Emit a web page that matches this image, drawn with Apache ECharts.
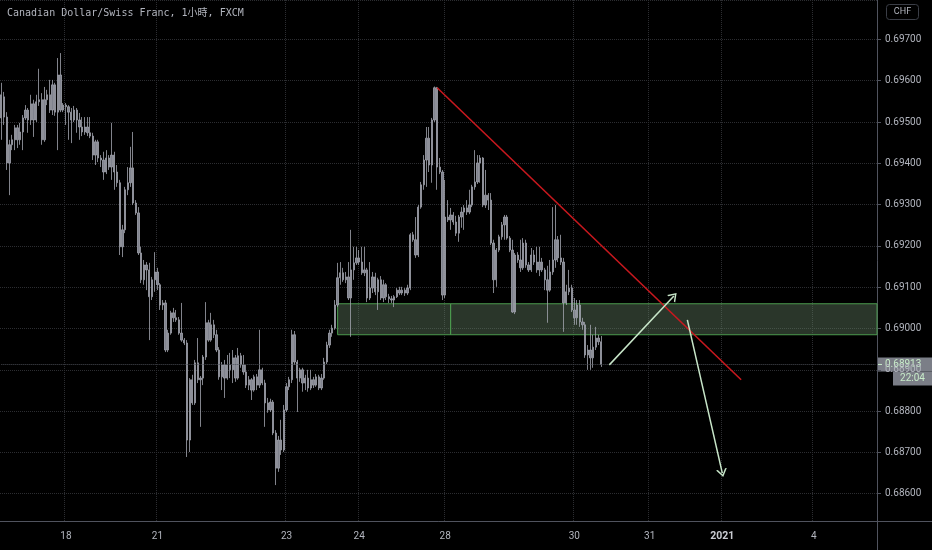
<!DOCTYPE html>
<html lang="en">
  <head>
    <meta charset="UTF-8" />
    <title>CADCHF 1h</title>
    <script src="https://cdn.jsdelivr.net/npm/echarts@6/dist/echarts.min.js"></script>
    <style>
      html,
      body {
        margin: 0;
        padding: 0;
        background: #000;
      }
      #main {
        width: 932px;
        height: 550px;
      }
    </style>
  </head>
  <body>
    <div id="main"></div>
    <script>
      // hourly bars, each row is [open, close, low, high]
      const dec17 = [
        [0.6951, 0.69566, 0.69457, 0.69595], [0.69561, 0.69512, 0.69493, 0.69573],
        [0.69512, 0.69401, 0.69384, 0.69524], [0.69401, 0.69445, 0.69323, 0.69457],
        [0.69445, 0.69457, 0.69432, 0.69469], [0.69457, 0.69486, 0.69432, 0.69493],
        [0.69486, 0.69457, 0.69437, 0.69493], [0.69457, 0.69476, 0.69445, 0.69498],
        [0.69476, 0.6951, 0.69432, 0.69517], [0.6951, 0.69529, 0.69505, 0.69541],
        [0.69529, 0.69505, 0.69474, 0.69534], [0.69505, 0.69544, 0.69493, 0.69566],
        [0.69544, 0.69505, 0.69464, 0.69554], [0.69505, 0.69549, 0.695, 0.69566],
        [0.69549, 0.69554, 0.69539, 0.69629], [0.69554, 0.69457, 0.69445, 0.6957],
        [0.69457, 0.69554, 0.69452, 0.69585], [0.69554, 0.69566, 0.69541, 0.69578],
        [0.69566, 0.69529, 0.69522, 0.69602], [0.69529, 0.6959, 0.69517, 0.69602],
        [0.6959, 0.69524, 0.69515, 0.69595], [0.69524, 0.69614, 0.69432, 0.69655],
        [0.69614, 0.69529, 0.69524, 0.69667], [0.69529, 0.69541, 0.69524, 0.69546],
      ];
      const dec18 = [
        [0.69541, 0.69537, 0.69493, 0.69546], [0.69537, 0.69524, 0.69457, 0.69541],
        [0.69524, 0.69505, 0.69449, 0.69534], [0.69505, 0.69529, 0.695, 0.69539],
        [0.69529, 0.69505, 0.69474, 0.69534], [0.69505, 0.69488, 0.69457, 0.69522],
        [0.69488, 0.69476, 0.69466, 0.69512], [0.69476, 0.69488, 0.69469, 0.69512],
        [0.69488, 0.69474, 0.69466, 0.69512], [0.69474, 0.69466, 0.69461, 0.69512],
        [0.69466, 0.6942, 0.69408, 0.69474], [0.6942, 0.69452, 0.69396, 0.69457],
        [0.69452, 0.69413, 0.69403, 0.69457], [0.69413, 0.69408, 0.69391, 0.6942],
        [0.69408, 0.69379, 0.6936, 0.69428], [0.69379, 0.69413, 0.69374, 0.69432],
        [0.69413, 0.69391, 0.69384, 0.6942], [0.69391, 0.6942, 0.6936, 0.69498],
        [0.6942, 0.69379, 0.69336, 0.69428], [0.69379, 0.69353, 0.69343, 0.69396],
        [0.69353, 0.69198, 0.69178, 0.6936], [0.69198, 0.69239, 0.69173, 0.69251],
        [0.69239, 0.69336, 0.69231, 0.69343], [0.69336, 0.69353, 0.69323, 0.69391],
        [0.69353, 0.69389, 0.69343, 0.6944], [0.69389, 0.69304, 0.69299, 0.69476],
        [0.69304, 0.6928, 0.69275, 0.69311], [0.6928, 0.69183, 0.69178, 0.69294],
        [0.69183, 0.69118, 0.6911, 0.69198], [0.69118, 0.69154, 0.69106, 0.69166],
        [0.69154, 0.69142, 0.69093, 0.69161], [0.69142, 0.69077, 0.68972, 0.69159],
        [0.69077, 0.69118, 0.69069, 0.69125], [0.69118, 0.69137, 0.69089, 0.69185],
      ];
      const dec21to22 = [
        [0.69137, 0.69106, 0.69093, 0.69147], [0.69106, 0.69057, 0.69045, 0.6911],
        [0.69057, 0.69062, 0.69045, 0.69069], [0.69062, 0.68948, 0.68943, 0.69069],
        [0.68948, 0.68989, 0.68943, 0.68997], [0.68989, 0.69038, 0.68985, 0.69043],
        [0.69038, 0.69026, 0.69016, 0.6905], [0.69026, 0.69021, 0.69016, 0.69045],
        [0.69021, 0.68989, 0.68985, 0.69028], [0.68989, 0.68972, 0.68968, 0.69062],
        [0.68972, 0.68965, 0.6896, 0.68977], [0.68965, 0.6873, 0.68689, 0.68972],
        [0.6873, 0.68876, 0.68701, 0.6888], [0.68876, 0.6882, 0.68815, 0.68888],
        [0.6882, 0.68917, 0.68815, 0.68924], [0.68917, 0.68876, 0.68868, 0.68977],
        [0.68876, 0.6888, 0.68762, 0.68885], [0.6888, 0.68931, 0.68863, 0.68936],
        [0.68931, 0.69014, 0.68924, 0.69064], [0.69014, 0.68972, 0.68968, 0.69021],
        [0.68972, 0.69009, 0.68968, 0.69038], [0.69009, 0.68985, 0.68977, 0.69021],
        [0.68985, 0.68948, 0.68943, 0.68997], [0.68948, 0.68883, 0.68876, 0.68955],
        [0.68883, 0.68912, 0.68851, 0.68919], [0.68912, 0.6888, 0.68832, 0.68924],
        [0.6888, 0.68912, 0.68876, 0.68936], [0.68912, 0.689, 0.6888, 0.68941],
        [0.689, 0.68929, 0.68868, 0.68948], [0.68929, 0.6888, 0.68871, 0.68936],
        [0.6888, 0.68934, 0.68876, 0.68953], [0.68934, 0.68912, 0.68905, 0.68941],
        [0.68912, 0.68895, 0.68888, 0.68936], [0.68895, 0.68863, 0.68856, 0.68912],
        [0.68863, 0.68876, 0.68851, 0.68885], [0.68876, 0.68851, 0.68827, 0.6888],
        [0.68851, 0.68883, 0.68847, 0.68888], [0.68883, 0.68863, 0.68851, 0.6889],
        [0.68863, 0.689, 0.68856, 0.68997], [0.689, 0.68868, 0.68863, 0.68905],
        [0.68868, 0.6882, 0.68762, 0.68876], [0.6882, 0.68803, 0.68796, 0.68832],
        [0.68803, 0.68822, 0.68798, 0.6883], [0.68822, 0.68747, 0.68742, 0.68827],
        [0.68747, 0.68662, 0.68621, 0.68754], [0.68662, 0.6873, 0.68653, 0.6874],
        [0.6873, 0.68706, 0.68694, 0.68779], [0.68706, 0.68803, 0.68701, 0.68815],
      ];
      const dec23 = [
        [0.68803, 0.68859, 0.68798, 0.68868], [0.68859, 0.68876, 0.68851, 0.68883],
        [0.68876, 0.68985, 0.68868, 0.68997], [0.68985, 0.68919, 0.68912, 0.68994],
        [0.68919, 0.6888, 0.68798, 0.68924], [0.6888, 0.689, 0.68871, 0.68905],
        [0.689, 0.68868, 0.68847, 0.68905], [0.68868, 0.6888, 0.68851, 0.68888],
        [0.6888, 0.68856, 0.68847, 0.689], [0.68856, 0.68876, 0.68851, 0.689],
        [0.68876, 0.68863, 0.68856, 0.68883], [0.68863, 0.68883, 0.68859, 0.6889],
        [0.68883, 0.68856, 0.68851, 0.68888], [0.68856, 0.6888, 0.68851, 0.6889],
        [0.6888, 0.68919, 0.68876, 0.68929], [0.68919, 0.6896, 0.68914, 0.68968],
        [0.6896, 0.68989, 0.68953, 0.68997], [0.68989, 0.69001, 0.6898, 0.69009],
        [0.69001, 0.69057, 0.68997, 0.69069], [0.69057, 0.69123, 0.69052, 0.69159],
        [0.69123, 0.69135, 0.69106, 0.69161], [0.69135, 0.69118, 0.69113, 0.69147],
        [0.69118, 0.69125, 0.6911, 0.69137], [0.69125, 0.69074, 0.69069, 0.69161],
        [0.69074, 0.69142, 0.6898, 0.69239], [0.69142, 0.69159, 0.69118, 0.69198],
        [0.69159, 0.69171, 0.69154, 0.69198],
      ];
      const dec24 = [
        [0.69171, 0.69161, 0.69154, 0.6919], [0.69161, 0.69135, 0.6913, 0.69198],
        [0.69135, 0.69142, 0.69127, 0.69198], [0.69142, 0.69074, 0.69064, 0.69147],
        [0.69074, 0.69098, 0.69069, 0.69161], [0.69098, 0.69125, 0.69086, 0.69137],
        [0.69125, 0.69089, 0.69081, 0.69135], [0.69089, 0.69118, 0.69045, 0.69123],
        [0.69118, 0.69074, 0.69069, 0.69127], [0.69074, 0.69106, 0.69064, 0.69118],
        [0.69106, 0.69077, 0.69069, 0.6911], [0.69077, 0.69072, 0.69062, 0.69084],
        [0.69072, 0.69069, 0.69062, 0.69079], [0.69069, 0.69077, 0.69052, 0.69081],
        [0.69077, 0.69093, 0.69074, 0.69098], [0.69093, 0.69086, 0.69081, 0.69101],
        [0.69086, 0.69093, 0.69081, 0.69101], [0.69093, 0.69086, 0.69079, 0.69098],
        [0.69086, 0.69098, 0.69081, 0.69106], [0.69098, 0.69227, 0.69093, 0.69231],
        [0.69227, 0.69215, 0.6921, 0.69234], [0.69215, 0.69178, 0.69171, 0.6927],
        [0.69178, 0.69294, 0.69173, 0.69299], [0.69294, 0.69348, 0.6929, 0.69355],
        [0.69348, 0.69408, 0.69336, 0.6942], [0.69408, 0.69461, 0.69343, 0.69488],
        [0.69461, 0.69396, 0.69379, 0.69488], [0.69396, 0.69505, 0.69353, 0.6951],
        [0.69505, 0.69583, 0.695, 0.69586], [0.69583, 0.69391, 0.69336, 0.69585],
        [0.69391, 0.69379, 0.69374, 0.69413], [0.69379, 0.69081, 0.69069, 0.69384],
      ];
      const dec28to29 = [
        [0.69081, 0.6927, 0.69074, 0.6936], [0.6927, 0.69263, 0.69258, 0.69311],
        [0.69263, 0.69275, 0.69239, 0.69292], [0.69275, 0.69258, 0.69251, 0.69282],
        [0.69258, 0.69231, 0.69224, 0.69273], [0.69231, 0.6927, 0.6921, 0.69275],
        [0.6927, 0.69282, 0.69244, 0.69294], [0.69282, 0.69292, 0.69239, 0.69299],
        [0.69292, 0.69282, 0.69275, 0.69311], [0.69282, 0.69299, 0.69277, 0.69336],
        [0.69299, 0.69343, 0.69294, 0.69348], [0.69343, 0.69355, 0.69336, 0.69432],
        [0.69355, 0.69401, 0.6935, 0.6942], [0.69401, 0.69413, 0.69353, 0.6942],
        [0.69413, 0.69299, 0.69294, 0.69415], [0.69299, 0.69323, 0.69292, 0.69384],
        [0.69323, 0.69311, 0.69287, 0.69328], [0.69311, 0.69207, 0.69202, 0.69328],
        [0.69207, 0.69118, 0.69086, 0.69215], [0.69118, 0.6919, 0.69101, 0.69195],
        [0.6919, 0.69222, 0.69185, 0.69227], [0.69222, 0.69251, 0.69215, 0.69258],
        [0.69251, 0.6927, 0.69215, 0.69275], [0.6927, 0.69219, 0.69215, 0.69275],
        [0.69219, 0.6919, 0.69185, 0.69224], [0.6919, 0.6904, 0.69038, 0.69215],
        [0.6904, 0.69178, 0.69035, 0.69183], [0.69178, 0.69166, 0.69159, 0.69185],
        [0.69166, 0.69147, 0.69137, 0.69215], [0.69147, 0.69207, 0.69142, 0.69219],
        [0.69207, 0.69154, 0.69147, 0.69215], [0.69154, 0.69142, 0.69137, 0.69161],
        [0.69142, 0.69178, 0.69137, 0.69195], [0.69178, 0.69161, 0.69154, 0.6919],
        [0.69161, 0.69142, 0.69135, 0.69198], [0.69142, 0.69161, 0.69127, 0.69198],
        [0.69161, 0.69142, 0.69137, 0.69171], [0.69142, 0.69118, 0.69093, 0.69147],
        [0.69118, 0.69093, 0.69014, 0.69152], [0.69093, 0.69137, 0.69089, 0.69166],
        [0.69137, 0.69166, 0.6913, 0.69294], [0.69166, 0.69215, 0.69147, 0.69299],
        [0.69215, 0.69171, 0.69161, 0.69224], [0.69171, 0.69161, 0.69154, 0.69227],
        [0.69161, 0.69062, 0.68992, 0.69171], [0.69062, 0.69089, 0.69057, 0.69106],
        [0.69089, 0.69098, 0.69081, 0.69142], [0.69098, 0.69045, 0.6904, 0.69106],
      ];
      const dec30 = [
        [0.69045, 0.69026, 0.69009, 0.69074], [0.69026, 0.69057, 0.69009, 0.69069],
        [0.69057, 0.69016, 0.69004, 0.69069], [0.69016, 0.69009, 0.68997, 0.69026],
        [0.69009, 0.68936, 0.68929, 0.69016], [0.68936, 0.68948, 0.689, 0.6896],
        [0.68948, 0.68929, 0.689, 0.69009], [0.68929, 0.68955, 0.68905, 0.68985],
        [0.68955, 0.68977, 0.68948, 0.69004], [0.68977, 0.68968, 0.6896, 0.68985],
        [0.68968, 0.68913, 0.68907, 0.68982],
      ];

      // day labels on the time axis and the bar each one sits on
      const dayTicks = ["18", "21", "23", "24", "28", "30", "31", "2021", "4"];
      const dayTickBars = [24, 58, 106, 133, 165, 213, 241, 268, 302];
      const totalBars = 326; // includes the empty future space on the right

      const lastPrice = 0.68913;
      const barCountdown = "22:04";

      // drawings on the chart (bar index, price)
      const trendLine = [[162, 0.69583], [275, 0.68876]];
      const zoneTop = 0.6906;
      const zoneBottom = 0.68985;
      const zoneBars = [125, 167];
      const arrowUp = [[226, 0.68912], [250, 0.69079]];
      const arrowDown = [[255, 0.69021], [268, 0.6865]];

      const bars = [].concat(dec17, dec18, dec21to22, dec23, dec24, dec28to29, dec30);
      const cats = Array.from({ length: totalBars }, (_, i) => String(i));
      const tickAt = {};
      dayTickBars.forEach((b, k) => (tickAt[b] = dayTicks[k]));
      const isTick = (idx) => tickAt[idx] !== undefined;

      const chevron = "path://M0,10 L5,0 L10,10 L8.4,10 L5,3.2 L1.6,10 Z";
      const textGrey = "#b2b5be";
      const axisGrey = "#50535e";
      const gridGrey = "#2c2d31";

      const chart = echarts.init(document.getElementById("main"));
      const option = {
        backgroundColor: "#000",
        animation: false,
        grid: { left: 0, right: 55, top: 0, bottom: 29 },
        xAxis: {
          type: "category",
          data: cats,
          boundaryGap: true,
          axisLine: { lineStyle: { color: axisGrey } },
          axisTick: { show: false },
          axisLabel: {
            interval: (idx) => isTick(idx),
            formatter: (v) => (tickAt[v] === "2021" ? "{b|2021}" : tickAt[v]),
            color: textGrey,
            fontSize: 10,
            fontFamily: "Roboto",
            margin: 10,
            rich: { b: { fontWeight: "bold", fontSize: 10.5, color: "#c9cbd1", fontFamily: "Roboto" } },
          },
          splitLine: {
            show: true,
            interval: (idx) => isTick(idx),
            lineStyle: { color: gridGrey, type: "dotted" },
          },
        },
        yAxis: {
          type: "value",
          position: "right",
          min: 0.68534,
          max: 0.697955,
          splitNumber: 12,
          axisLine: { show: true, lineStyle: { color: axisGrey } },
          axisTick: { show: true, length: 4, lineStyle: { color: axisGrey } },
          axisLabel: {
            color: textGrey,
            fontSize: 10,
            fontFamily: "Roboto",
            margin: 8,
            showMinLabel: false,
            showMaxLabel: false,
            formatter: (v) => v.toFixed(5),
          },
          splitLine: { lineStyle: { color: gridGrey, type: "dotted" } },
        },
        series: [
          {
            type: "candlestick",
            data: bars,
            barWidth: 1.8,
            itemStyle: {
              color: "#80838e",
              color0: "#80838e",
              borderColor: "#a2a5ae",
              borderColor0: "#a2a5ae",
              borderWidth: 0.8,
            },
            markArea: {
              silent: true,
              itemStyle: {
                color: "rgba(105, 135, 105, 0.4)",
                borderColor: "#4b9a4e",
                borderWidth: 1,
              },
              data: [
                [{ coord: [zoneBars[0], zoneTop] }, { coord: [zoneBars[1], zoneBottom] }],
                [{ coord: [zoneBars[1], zoneTop] }, { coord: [Infinity, zoneBottom] }],
              ],
            },
            markLine: {
              silent: true,
              symbol: ["none", "none"],
              label: { show: false },
              data: [
                [
                  { coord: [0, lastPrice], lineStyle: { color: "#4a4d55", type: "dotted", width: 1 } },
                  { coord: [totalBars - 1, lastPrice] },
                ],
                [
                  { coord: trendLine[0], lineStyle: { color: "#c8181e", width: 1.6, type: "solid" } },
                  { coord: trendLine[1] },
                ],
                [
                  { coord: arrowUp[0], lineStyle: { color: "#c8e6c9", width: 1.5, type: "solid" } },
                  { coord: arrowUp[1], symbol: chevron, symbolSize: [11, 8] },
                ],
                [
                  { coord: arrowDown[0], lineStyle: { color: "#c8e6c9", width: 1.5, type: "solid" } },
                  { coord: arrowDown[1], symbol: chevron, symbolSize: [11, 8] },
                ],
              ],
            },
          },
        ],
      };
      chart.setOption(option);

      // price tag and countdown sit on the price axis at the last close
      const py = chart.convertToPixel({ yAxisIndex: 0 }, lastPrice);
      const tagBg = "#7b7e87";
      const tagText = "#c8ecc9";
      chart.setOption({
        graphic: [
          {
            type: "text",
            left: 7,
            top: 8,
            style: {
              text: "Canadian Dollar/Swiss Franc, 1小時, FXCM",
              fill: textGrey,
              font: '10px "DejaVu Sans Mono", "Noto Sans CJK TC", monospace',
            },
          },
          {
            type: "rect",
            shape: { x: 886.5, y: 4.5, width: 32, height: 15, r: 3 },
            style: { fill: "none", stroke: "#3b3e47", lineWidth: 1 },
          },
          {
            type: "text",
            x: 902.5,
            y: 12,
            style: {
              text: "CHF",
              fill: textGrey,
              font: "9px Roboto",
              align: "center",
              verticalAlign: "middle",
            },
          },
          {
            type: "line",
            shape: { x1: 877, y1: 521.5, x2: 932, y2: 521.5 },
            style: { stroke: axisGrey, lineWidth: 1 },
          },
          {
            type: "line",
            shape: { x1: 877.5, y1: 521, x2: 877.5, y2: 550 },
            style: { stroke: axisGrey, lineWidth: 1 },
          },
          {
            type: "rect",
            shape: { x: 877, y: py - 7, width: 55, height: 14 },
            style: { fill: tagBg },
          },
          {
            type: "text",
            x: 885,
            y: py,
            style: {
              text: lastPrice.toFixed(5),
              fill: tagText,
              font: "10px Roboto",
              verticalAlign: "middle",
            },
          },
          {
            type: "line",
            shape: { x1: 878, y1: py, x2: 882, y2: py },
            style: { stroke: tagText, lineWidth: 1 },
          },
          {
            type: "rect",
            shape: { x: 893, y: py + 7, width: 39, height: 14 },
            style: { fill: tagBg },
          },
          {
            type: "text",
            x: 912.5,
            y: py + 14,
            style: {
              text: barCountdown,
              fill: tagText,
              font: "10px Roboto",
              align: "center",
              verticalAlign: "middle",
            },
          },
        ],
      });
    </script>
  </body>
</html>
